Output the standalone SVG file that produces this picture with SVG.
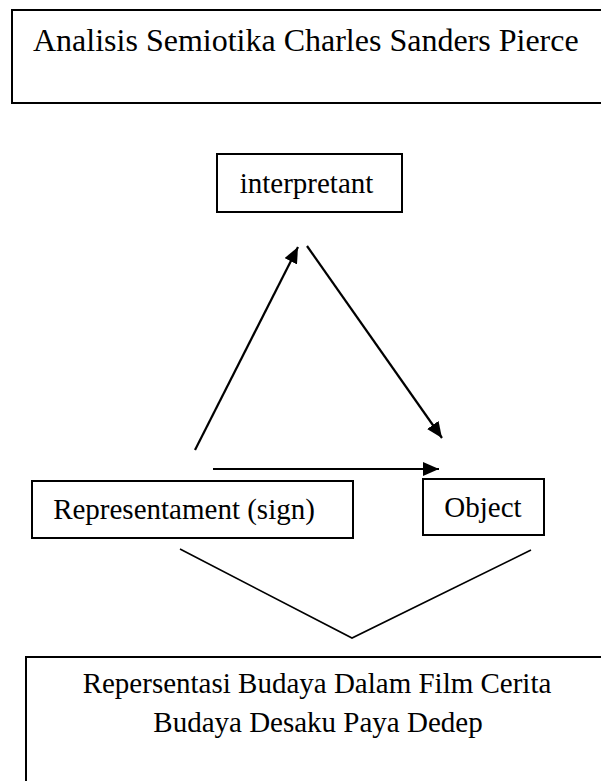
<svg xmlns="http://www.w3.org/2000/svg" width="601" height="781" viewBox="0 0 601 781">
  <style>
    .box { fill: #ffffff; stroke: #000000; stroke-width: 2; }
    .lbl { font-family: "Liberation Serif", "Times New Roman", serif; font-size: 29px; fill: #000000; }
    .title { font-size: 32px; }
    .arrow { stroke: #000000; stroke-width: 2.2; fill: none; }
    .thin { stroke: #000000; stroke-width: 1.6; fill: none; }
  </style>
  <defs>
    <marker id="ah" viewBox="0 0 16 14" refX="16" refY="7" markerWidth="16" markerHeight="14" markerUnits="userSpaceOnUse" orient="auto">
      <path d="M0,0 L16,7 L0,14 z" fill="#000000"/>
    </marker>
  </defs>
  <rect width="601" height="781" fill="#ffffff"/>

  <g id="title-node">
    <path class="box" d="M604,10 L12,10 L12,103 L604,103"/>
    <text class="lbl title" x="33" y="51">Analisis Semiotika Charles Sanders Pierce</text>
  </g>

  <g id="interpretant">
    <rect class="box" x="217" y="154" width="185" height="58"/>
    <text class="lbl" x="306.5" y="193" text-anchor="middle">interpretant</text>
  </g>

  <g id="representament">
    <rect class="box" x="32" y="481" width="321" height="57"/>
    <text class="lbl" x="184" y="519" text-anchor="middle">Representament (sign)</text>
  </g>

  <g id="object">
    <rect class="box" x="423" y="479" width="121" height="56"/>
    <text class="lbl" x="483" y="517" text-anchor="middle">Object</text>
  </g>

  <g id="result-node">
    <path class="box" d="M604,657 L26,657 L26,790"/>
    <text class="lbl" x="317" y="693" text-anchor="middle">Repersentasi Budaya Dalam Film Cerita</text>
    <text class="lbl" x="318" y="732" text-anchor="middle">Budaya Desaku Paya Dedep</text>
  </g>

  <g id="connectors">
    <line class="arrow" x1="195" y1="450" x2="298" y2="247" marker-end="url(#ah)"/>
    <line class="arrow" x1="307" y1="246" x2="442" y2="438" marker-end="url(#ah)"/>
    <line class="arrow" x1="213" y1="469" x2="439" y2="469" marker-end="url(#ah)"/>
    <polyline class="thin" points="180,549 352,638 531,550"/>
  </g>
</svg>
